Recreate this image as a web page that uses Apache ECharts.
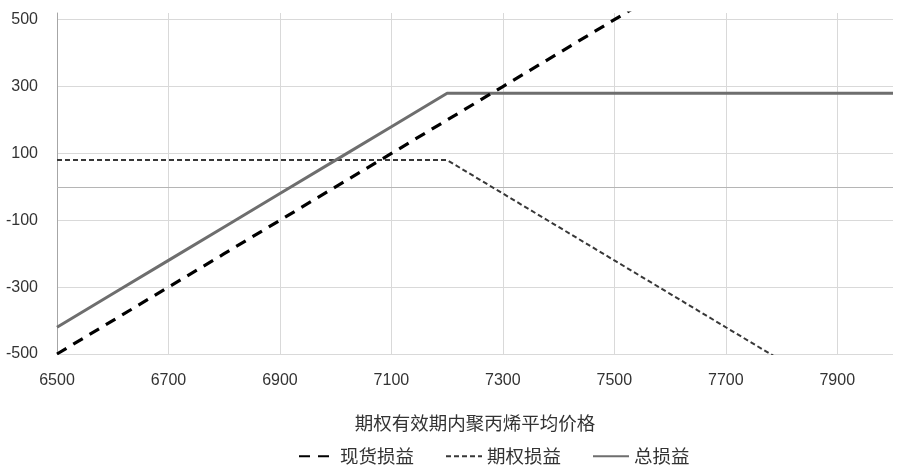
<!DOCTYPE html>
<html><head><meta charset="utf-8">
<script src="https://cdn.jsdelivr.net/npm/echarts@6/dist/echarts.min.js"></script>
<style>html,body{margin:0;padding:0;background:#fff}#c{width:900px;height:468px}</style>
</head><body><div id="c"></div>
<script>
const prices = [6500,6600,6700,6800,6900,7000,7100,7200,7300,7400,7500,7600,7700,7800,7900,8000];
const spotPnL = [-500,-400,-300,-200,-100,0,100,200,300,400,500,600,700,800,900,1000];
const optionPnL = [80,80,80,80,80,80,80,80,-20,-120,-220,-320,-420,-520,-620,-720];
const totalPnL = [-420,-320,-220,-120,-20,80,180,280,280,280,280,280,280,280,280,280];
const xTicks = [6500,6700,6900,7100,7300,7500,7700,7900];
const yLabels = [-500,-300,-100,100,300,500];
const yGrid = [-500,-300,-100,100,300,500];
const seriesNames = ['现货损益','期权损益','总损益'];
const xName = '期权有效期内聚丙烯平均价格';

const pair = (ys) => prices.map((p,i)=>[p, ys[i]]);
const chart = echarts.init(document.getElementById('c'));
const font = 'Liberation Sans';
chart.setOption({
  animation:false,
  grid:{left:57,right:7,top:13,bottom:114},
  legend:{
    top:442, left:293, itemWidth:36, itemHeight:14, itemGap:31,
    itemStyle:{opacity:0},
    textStyle:{fontFamily:'Noto Sans CJK SC', fontSize:18.5, color:'#333'},
    data:seriesNames
  },
  xAxis:{
    type:'value', min:6500, max:8000,
    name:xName, nameLocation:'middle', nameGap:60, nameMoveOverlap:false,
    nameTextStyle:{fontFamily:'Noto Sans CJK SC', fontSize:18.5, color:'#333'},
    axisLine:{show:false}, axisTick:{show:false, customValues:xTicks},
    axisLabel:{customValues:xTicks, fontFamily:font, fontSize:16, color:'#333', margin:19,
      formatter:(v)=>String(v)},
    splitLine:{show:true, lineStyle:{color:'#d9d9d9', width:1}}
  },
  yAxis:{
    type:'value', min:-500, max:520,
    axisLine:{show:true, lineStyle:{color:'#a6a6a6', width:1}},
    axisTick:{show:false, customValues:yGrid},
    axisLabel:{customValues:yLabels, fontFamily:font, fontSize:16, color:'#333', margin:19,
      formatter:(v)=>String(v)},
    splitLine:{show:true, lineStyle:{color:'#d9d9d9', width:1}}
  },
  series:[
    {name:seriesNames[0], type:'line', data:pair(spotPnL), symbol:'none', clip:true,
     lineStyle:{color:'#000', width:3.2, type:[11,8]}, itemStyle:{color:'#000'}, z:3,
     markLine:{silent:true, symbol:'none', label:{show:false}, data:[{yAxis:0}],
       lineStyle:{color:'#b5b5b5', width:1, type:'solid'}, z:1}},
    {name:seriesNames[1], type:'line', data:pair(optionPnL), symbol:'none', clip:true,
     lineStyle:{color:'#383838', width:2, type:[5,3]}, itemStyle:{color:'#383838'}, z:2},
    {name:seriesNames[2], type:'line', data:pair(totalPnL), symbol:'none', clip:true,
     lineStyle:{color:'#6e6e6e', width:3, type:'solid'}, itemStyle:{color:'#6e6e6e'}, z:2}
  ]
});
</script></body></html>
